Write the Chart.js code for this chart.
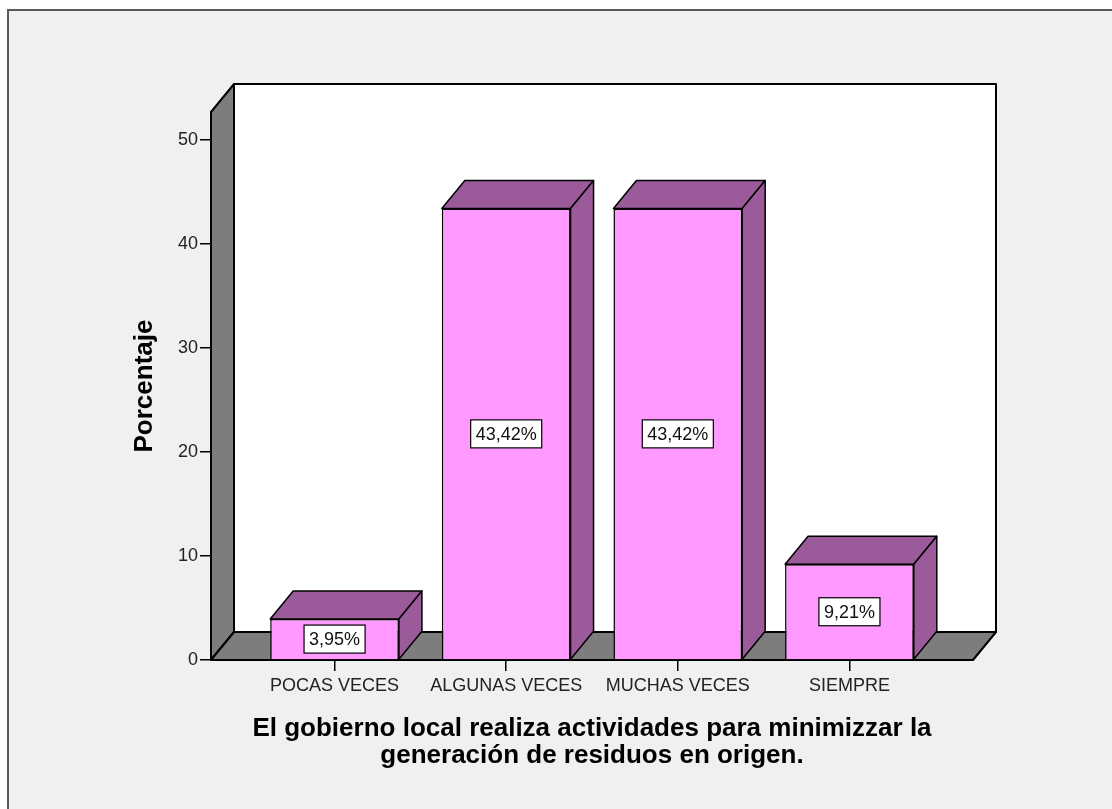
<!DOCTYPE html>
<html>
<head>
<meta charset="utf-8">
<script src="https://cdn.jsdelivr.net/npm/chart.js@4/dist/chart.umd.min.js"></script>
<style>
  html, body { margin: 0; padding: 0; background: #ffffff; }
  canvas { display: block; }
</style>
</head>
<body>
<canvas id="chart" width="1112" height="809"></canvas>
<script>
// Categories and values
const categories = ["POCAS VECES", "ALGUNAS VECES", "MUCHAS VECES", "SIEMPRE"];
const percentages = [3.95, 43.42, 43.42, 9.21];
const yTicks = [0, 10, 20, 30, 40, 50];

const depthX = 23;   // 3D depth offset
const depthY = -28;

const FRONT = "#ff99ff";
const SIDE = "#9b5b9b";
const WALL = "#7d7d7d";
const FONT = "'Liberation Sans', Arial, sans-serif";

// Background, frame, walls and floor
const walls3d = {
  id: "walls3d",
  beforeDraw(chart) {
    const { ctx, chartArea: a } = chart;
    ctx.save();
    ctx.fillStyle = "#ffffff";
    ctx.fillRect(0, 0, chart.width, chart.height);
    ctx.fillStyle = "#f0f0f0";
    ctx.fillRect(8, 10, chart.width, chart.height);
    ctx.strokeStyle = "#5a5a5a";
    ctx.lineWidth = 2;
    ctx.beginPath();
    ctx.moveTo(8, chart.height + 5);
    ctx.lineTo(8, 10);
    ctx.lineTo(chart.width + 5, 10);
    ctx.stroke();

    ctx.lineWidth = 2;
    ctx.strokeStyle = "#000";
    ctx.lineJoin = "round";
    // back wall
    ctx.fillStyle = "#ffffff";
    ctx.fillRect(a.left + depthX, a.top + depthY, a.right - a.left, a.bottom - a.top);
    ctx.strokeRect(a.left + depthX, a.top + depthY, a.right - a.left, a.bottom - a.top);
    // left wall
    ctx.fillStyle = WALL;
    ctx.beginPath();
    ctx.moveTo(a.left, a.bottom);
    ctx.lineTo(a.left, a.top);
    ctx.lineTo(a.left + depthX, a.top + depthY);
    ctx.lineTo(a.left + depthX, a.bottom + depthY);
    ctx.closePath();
    ctx.fill();
    ctx.stroke();
    // floor
    ctx.beginPath();
    ctx.moveTo(a.left, a.bottom);
    ctx.lineTo(a.left + depthX, a.bottom + depthY);
    ctx.lineTo(a.right + depthX, a.bottom + depthY);
    ctx.lineTo(a.right, a.bottom);
    ctx.closePath();
    ctx.fill();
    ctx.stroke();
    ctx.restore();
  },
  beforeDatasetsDraw(chart) {
    const { ctx } = chart;
    const meta = chart.getDatasetMeta(0);
    ctx.save();
    ctx.strokeStyle = "#000";
    ctx.lineWidth = 1.5;
    ctx.lineJoin = "round";
    ctx.fillStyle = SIDE;
    meta.data.forEach(bar => {
      const { x, y, base, width } = bar.getProps(["x", "y", "base", "width"], true);
      const l = x - width / 2, r = x + width / 2;
      // top face
      ctx.beginPath();
      ctx.moveTo(l, y);
      ctx.lineTo(l + depthX, y + depthY);
      ctx.lineTo(r + depthX, y + depthY);
      ctx.lineTo(r, y);
      ctx.closePath();
      ctx.fill();
      ctx.stroke();
      // side face
      ctx.beginPath();
      ctx.moveTo(r, y);
      ctx.lineTo(r + depthX, y + depthY);
      ctx.lineTo(r + depthX, base + depthY);
      ctx.lineTo(r, base);
      ctx.closePath();
      ctx.fill();
      ctx.stroke();
    });
    ctx.restore();
  },
  afterDatasetsDraw(chart) {
    const { ctx } = chart;
    const meta = chart.getDatasetMeta(0);
    ctx.save();
    ctx.font = "18px " + FONT;
    ctx.textAlign = "center";
    ctx.textBaseline = "middle";
    meta.data.forEach((bar, i) => {
      const { x, y, base } = bar.getProps(["x", "y", "base"], true);
      const label = percentages[i].toFixed(2).replace(".", ",") + "%";
      const cy = (y + base) / 2;
      const w = ctx.measureText(label).width + 10;
      const h = 28;
      ctx.fillStyle = "#ffffff";
      ctx.fillRect(x - w / 2, cy - h / 2, w, h);
      ctx.strokeStyle = "#000";
      ctx.lineWidth = 1.2;
      ctx.strokeRect(x - w / 2, cy - h / 2, w, h);
      ctx.fillStyle = "#111";
      ctx.fillText(label, x, cy + 1);
    });
    ctx.restore();
  }
};

new Chart(document.getElementById("chart"), {
  type: "bar",
  data: {
    datasets: [{
      data: percentages.map((v, i) => ({ x: i, y: v })),
      backgroundColor: FRONT,
      borderColor: "#000",
      borderWidth: 1.5,
      barPercentage: 0.75,
      categoryPercentage: 1
    }]
  },
  options: {
    responsive: false,
    animation: false,
    layout: { padding: { left: 129, right: 139, top: 112, bottom: 0 } },
    plugins: {
      legend: { display: false },
      tooltip: { enabled: false }
    },
    scales: {
      x: {
        type: "linear",
        min: -0.72,
        max: 3.72,
        offset: false,
        afterBuildTicks(scale) {
          scale.ticks = categories.map((_, i) => ({ value: i }));
        },
        afterFit(scale) { scale.height = 149; },
        border: { display: false },
        grid: { offset: false, drawOnChartArea: false, drawTicks: true, tickLength: 11, color: "#000", lineWidth: 1.5 },
        ticks: {
          autoSkip: false,
          maxRotation: 0,
          padding: 4,
          color: "#222",
          font: { family: FONT, size: 18 },
          callback: value => categories[value]
        },
        title: {
          display: true,
          text: ["El gobierno local realiza actividades para minimizzar la", "generación de residuos en origen."],
          color: "#000",
          font: { family: FONT, size: 26, weight: "bold", lineHeight: 1.04 },
          padding: { top: 0, bottom: 40 }
        }
      },
      y: {
        min: 0,
        max: 52.7,
        afterBuildTicks(scale) {
          scale.ticks = yTicks.map(v => ({ value: v }));
        },
        afterFit(scale) { scale.width = 82; },
        border: { display: true, color: "#000", width: 2 },
        grid: { drawOnChartArea: false, drawTicks: true, tickLength: 11, color: "#000", lineWidth: 1.5 },
        ticks: {
          padding: 2,
          color: "#222",
          font: { family: FONT, size: 18 }
        },
        title: {
          display: true,
          text: "Porcentaje",
          color: "#000",
          font: { family: FONT, size: 26, weight: "bold" },
          padding: { top: 0, bottom: 0 }
        }
      }
    }
  },
  plugins: [walls3d]
});
</script>
</body>
</html>
